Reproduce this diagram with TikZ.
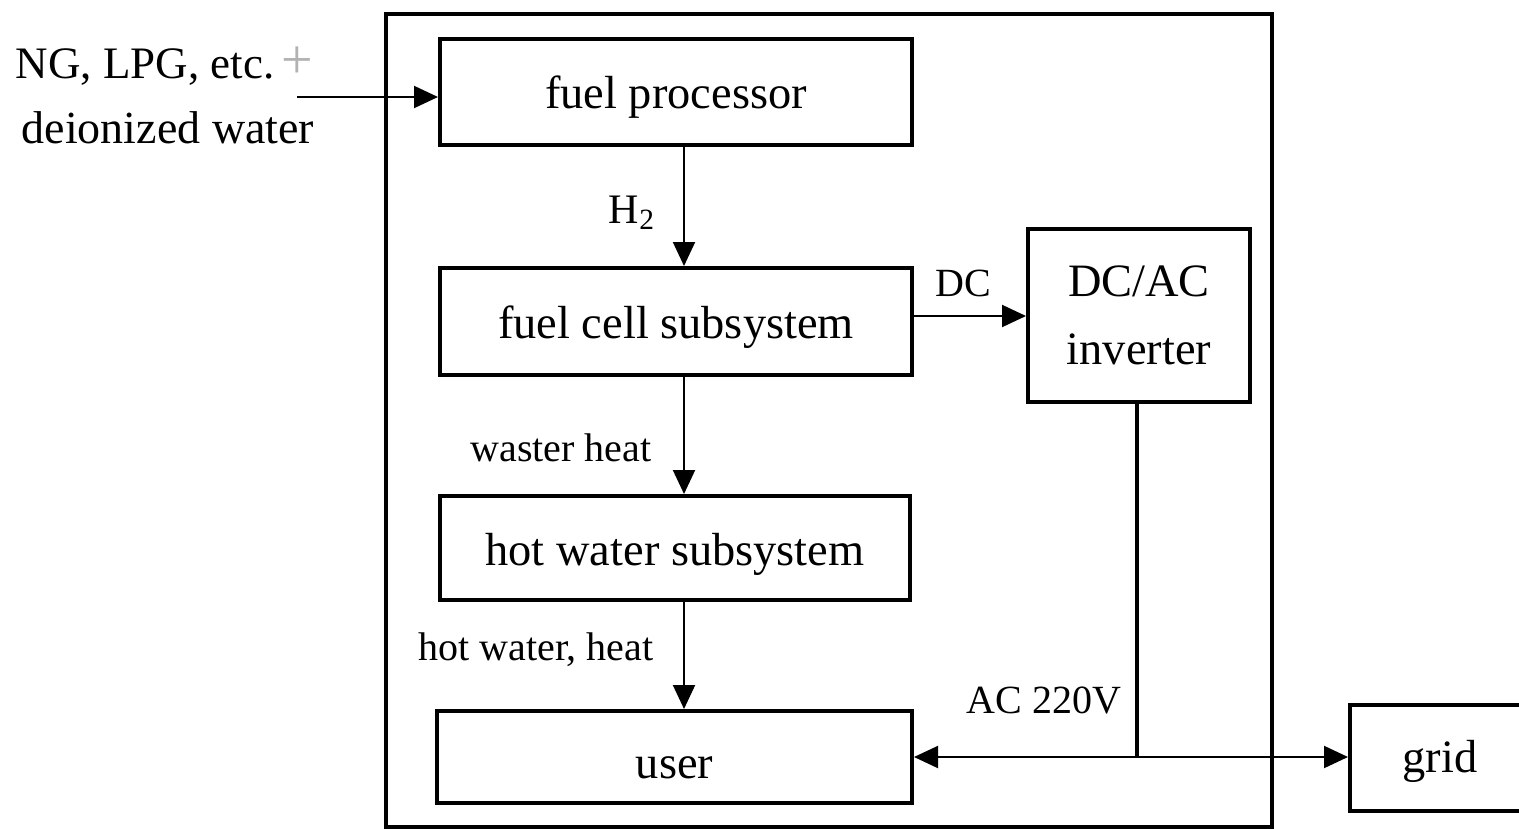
\documentclass[tikz,border=0pt]{standalone}
\usepackage{fontspec}
\setmainfont{Liberation Serif}
\usetikzlibrary{arrows.meta}
\begin{document}
\begin{tikzpicture}[x=0.5pt,y=-0.5pt,
  every node/.style={inner sep=0pt},
  blk/.style={draw, line width=2pt, minimum width=#1, font=\fontsize{23.2}{34}\selectfont,
    text height=21pt, text depth=4pt},
  lbl/.style={font=\fontsize{20}{24}\selectfont, anchor=base},
  inlbl/.style={font=\fontsize{23}{27}\selectfont, anchor=base},
  conn/.style={line width=1pt, -{Triangle[length=12pt,width=11pt]}},
  ]
\useasboundingbox (0,0) rectangle (1519,829);
% outer system frame
\node[draw, line width=2pt, minimum width=443pt, minimum height=406.5pt] (sys) at (829,420.5) {};
% blocks
\node[blk=236pt, minimum height=53pt] (fp) at (676,92) {fuel processor};
\node[blk=236pt, minimum height=53.5pt] (fc) at (676,321.5) {fuel cell subsystem};
\node[blk=235pt, minimum height=52pt] (hw) at (675,548) {hot water subsystem};
\node[blk=237.5pt, minimum height=46pt, text height=25pt] (us) at (674.5,757) {user};
\node[blk=111pt, minimum height=86.5pt, align=center, text height=, text depth=] (inv) at (1139,315.5) {\raisebox{-1.5pt}{DC/AC}\\\raisebox{-1.5pt}{inverter}};
\node[blk=90pt, minimum height=53pt, text height=18pt] (grid) at (1440,758) {grid};
% input labels
\node[inlbl, font=\fontsize{22.5}{27}\selectfont] (ng) at (145,79) {NG, LPG, etc.};
\node[text=gray!60, font=\fontsize{28}{30}\selectfont] (plus) at (297,63) {+};
\node[inlbl] (dw) at (168,143) {deionized water};
\coordinate (in) at (297,97);
\draw[conn] (in) -- (fp.west |- in);
% vertical flows
\draw[conn] (fp.south -| 684,0) -- (fc.north -| 684,0);
\node[lbl, font=\fontsize{21}{24}\selectfont] (h2) at (632,223) {H\textsubscript{2}};
\draw[conn] (fc.south -| 684,0) -- (hw.north -| 684,0);
\node[lbl] (wh) at (561,461) {waster heat};
\draw[conn] (hw.south -| 684,0) -- (us.north -| 684,0);
\node[lbl] (hwh) at (536,660) {hot water, heat};
% DC
\draw[conn] (fc.east |- 0,316) -- (inv.west |- 0,316);
\node[lbl] (dc) at (963,296) {DC};
% AC
\coordinate (j) at (1137,757);
\draw[line width=2pt] (inv.south -| j) -- (j);
\draw[conn] (j) -- (us.east |- j);
\draw[conn] (j) -- (grid.west |- j);
\node[lbl] (ac) at (1044,713) {AC 220V};
\end{tikzpicture}
\end{document}
